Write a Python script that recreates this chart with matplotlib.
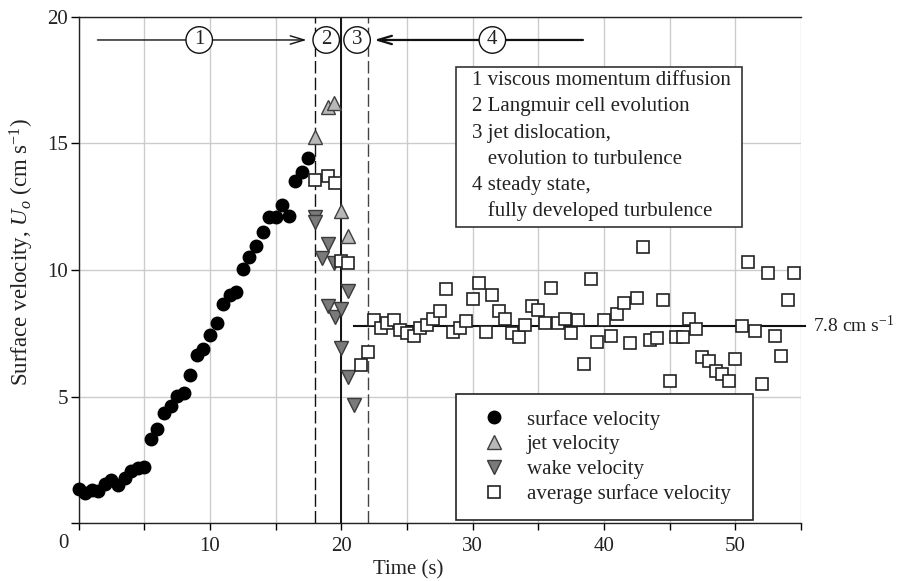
import matplotlib
matplotlib.use('Agg')
import matplotlib.pyplot as plt
from matplotlib.patches import Rectangle

plt.rcParams['font.family'] = ['Liberation Serif', 'DejaVu Serif']
plt.rcParams['mathtext.fontset'] = 'custom'
plt.rcParams['mathtext.rm'] = 'Liberation Serif'
plt.rcParams['mathtext.it'] = 'Liberation Serif:italic'

# surface velocity (black circles)
surface_t = [0.0, 0.5, 1.0, 1.5, 2.0, 2.5, 3.0, 3.5, 4.0, 4.5, 5.0, 5.5,
             6.0, 6.5, 7.0, 7.5, 8.0, 8.5, 9.0, 9.5, 10.0, 10.5, 11.0, 11.5,
             12.0, 12.5, 13.0, 13.5, 14.0, 14.5, 15.0, 15.5, 16.0, 16.5, 17.0, 17.5]
surface_v = [1.34, 1.18, 1.31, 1.27, 1.55, 1.71, 1.51, 1.78, 2.06, 2.17, 2.23, 3.31,
             3.72, 4.34, 4.63, 5.02, 5.13, 5.85, 6.64, 6.87, 7.43, 7.90, 8.66, 9.01,
             9.12, 10.03, 10.53, 10.96, 11.51, 12.10, 12.08, 12.57, 12.14, 13.53, 13.88, 14.43]

# jet velocity (light grey triangles up)
jet_t = [18.0, 18.95, 19.45, 20.0, 20.5]
jet_v = [15.26, 16.42, 16.58, 12.33, 11.34]

# wake velocity (dark grey triangles down)
wake_t = [18.0, 18.0, 18.5, 19.0, 19.0, 19.45, 19.5, 20.0, 20.0, 20.5, 20.5, 21.0]
wake_v = [12.08, 11.90, 10.46, 11.03, 8.59, 10.26, 8.16, 8.46, 6.91, 9.17, 5.76, 4.67]

# average surface velocity (open squares)
avg_t = [18.0, 19.0, 19.5, 20.0, 20.5, 21.5, 22.0, 22.5, 23.0, 23.5, 24.0, 24.5,
         25.0, 25.5, 26.0, 26.5, 27.0, 27.5, 28.0, 28.5, 29.0, 29.5, 30.0, 30.5,
         31.0, 31.5, 32.0, 32.5, 33.0, 33.5, 34.0, 34.5, 35.0, 35.5, 36.0, 36.5,
         37.0, 37.5, 38.0, 38.5, 39.0, 39.5, 40.0, 40.5, 41.0, 41.5, 42.0, 42.5,
         43.0, 43.5, 44.0, 44.5, 45.0, 45.5, 46.0, 46.5, 47.0, 47.5, 48.0, 48.5,
         49.0, 49.5, 50.0, 50.5, 51.0, 51.5, 52.0, 52.5, 53.0, 53.5, 54.0, 54.5]
avg_v = [13.55, 13.72, 13.42, 10.37, 10.26, 6.25, 6.77, 8.03, 7.72, 7.90, 8.03, 7.63,
         7.50, 7.39, 7.72, 7.83, 8.07, 8.38, 9.25, 7.57, 7.72, 7.99, 8.84, 9.47,
         7.57, 9.01, 8.38, 8.05, 7.50, 7.37, 7.83, 8.59, 8.42, 7.90, 9.30, 7.90,
         8.07, 7.50, 8.03, 6.29, 9.63, 7.17, 8.03, 7.41, 8.26, 8.71, 7.10, 8.88,
         10.92, 7.24, 7.30, 8.82, 5.62, 7.37, 7.37, 8.07, 7.66, 6.55, 6.40, 6.00,
         5.90, 5.60, 6.50, 7.80, 10.30, 7.60, 5.50, 9.90, 7.40, 6.60, 8.80, 9.90]

steady_v = 7.8
steady_span = [21.0, 55.3]

phase_bounds = [18, 20, 22]
phase_labels = ['1', '2', '3', '4']
phase_pos = [9.18, 18.85, 21.2, 31.5]

box_lines = ['1 viscous momentum diffusion',
             '2 Langmuir cell evolution',
             '3 jet dislocation,',
             '   evolution to turbulence',
             '4 steady state,',
             '   fully developed turbulence']

FS = 15
TXT = '#222222'

fig = plt.figure(figsize=(9, 5.81), dpi=100)
ax = fig.add_axes([0.0874, 0.0993, 0.8026, 0.8720])
ax.set_xlim(0, 55)
ax.set_ylim(0, 20)

ax.set_xticks([0, 5, 10, 15, 20, 25, 30, 35, 40, 45, 50, 55])
ax.set_xticklabels(['', '', '10', '', '20', '', '30', '', '40', '', '50', ''])
ax.set_yticks([0, 5, 10, 15, 20])
ax.set_yticklabels(['', '5', '10', '15', '20'])
ax.tick_params(axis='x', length=5, width=1, pad=4.5, labelsize=FS, labelcolor=TXT)
ax.tick_params(axis='y', length=5.5, width=1, pad=2, labelsize=FS, labelcolor=TXT)
ax.grid(color='#cccccc', lw=1.0)
ax.set_axisbelow(True)
ax.spines['right'].set_visible(False)
for s in ['left', 'bottom', 'top']:
    ax.spines[s].set_linewidth(1.0)
    ax.spines[s].set_color('#222222')

# corner "0"
ax.text(-0.0217, -0.0389, '0', transform=ax.transAxes, ha='center', va='center',
        fontsize=FS, color=TXT)

# phase boundaries
ax.axvline(phase_bounds[0], color='#111111', lw=1.0, ls=(0, (9, 3)), zorder=2)
ax.axvline(phase_bounds[1], color='#111111', lw=1.4, zorder=2)
ax.axvline(phase_bounds[2], color='#444444', lw=1.0, ls=(0, (9, 3)), zorder=2)

# steady state line
ax.plot(steady_span, [steady_v, steady_v], color='#111111', lw=1.5, clip_on=False, zorder=3)
ax.text(55.95, steady_v, '7.8 cm s$^{-1}$', va='center', ha='left', fontsize=14, color=TXT)

ax.plot(surface_t, surface_v, 'o', ms=9, color='black', ls='none', clip_on=False,
        zorder=5, label='surface velocity')
ax.plot(jet_t, jet_v, '^', ms=9.5, mfc='#b8b8b8', mec='#404040', mew=1.0, ls='none',
        zorder=5, label='jet velocity')
ax.plot(wake_t, wake_v, 'v', ms=9.5, mfc='#7a7a7a', mec='#3a3a3a', mew=1.0, ls='none',
        zorder=5, label='wake velocity')
ax.plot(avg_t, avg_v, 's', ms=8, mfc='white', mec='#222222', mew=1.2, ls='none',
        zorder=5, label='average surface velocity')

# phase arrows and circled numbers
arrow_y = 19.08
ax.annotate('', xy=(17.35, arrow_y), xytext=(1.43, arrow_y),
            arrowprops=dict(arrowstyle='->,head_length=1.0,head_width=0.3', lw=1.0,
                            color='#111111', shrinkA=0, shrinkB=0, mutation_scale=10))
ax.annotate('', xy=(22.5, arrow_y), xytext=(38.4, arrow_y),
            arrowprops=dict(arrowstyle='->,head_length=1.0,head_width=0.3', lw=1.6,
                            color='#111111', shrinkA=0, shrinkB=0, mutation_scale=10))
for lbl, tx in zip(phase_labels, phase_pos):
    ax.text(tx, arrow_y, lbl, ha='center', va='center', fontsize=FS, color=TXT, zorder=7,
            bbox=dict(boxstyle='circle,pad=0.18', fc='white', ec='#111111', lw=1.0))

# explanation box
ax.add_patch(Rectangle((0.523, 0.584), 0.395, 0.316, transform=ax.transAxes,
                       fc='white', ec='#333333', lw=1.2, zorder=6))
for i, line in enumerate(box_lines):
    ax.text(0.544, 0.8652 - i * 0.0519, line, transform=ax.transAxes, ha='left',
            va='baseline', fontsize=FS, color=TXT, zorder=7)

leg = ax.legend(loc='lower left', bbox_to_anchor=(0.5224, 0.0065, 0.4116, 0.2467),
                mode='expand', borderaxespad=0, fontsize=FS, frameon=True, fancybox=False,
                edgecolor='#222222', framealpha=1, borderpad=0.75, handlelength=2.15,
                handletextpad=0.5, labelspacing=0.25)
leg.get_frame().set_linewidth(1.2)
for t in leg.get_texts():
    t.set_color(TXT)

ax.text(0.456, -0.092, 'Time (s)', transform=ax.transAxes, ha='center', va='center',
        fontsize=FS, color=TXT)
ax.text(-0.0785, 0.5355, 'Surface velocity, $U_o$ (cm s$^{-1}$)', transform=ax.transAxes,
        ha='center', va='center', rotation=90, fontsize=16.5, color=TXT)

fig.savefig('out.png', dpi=100)
